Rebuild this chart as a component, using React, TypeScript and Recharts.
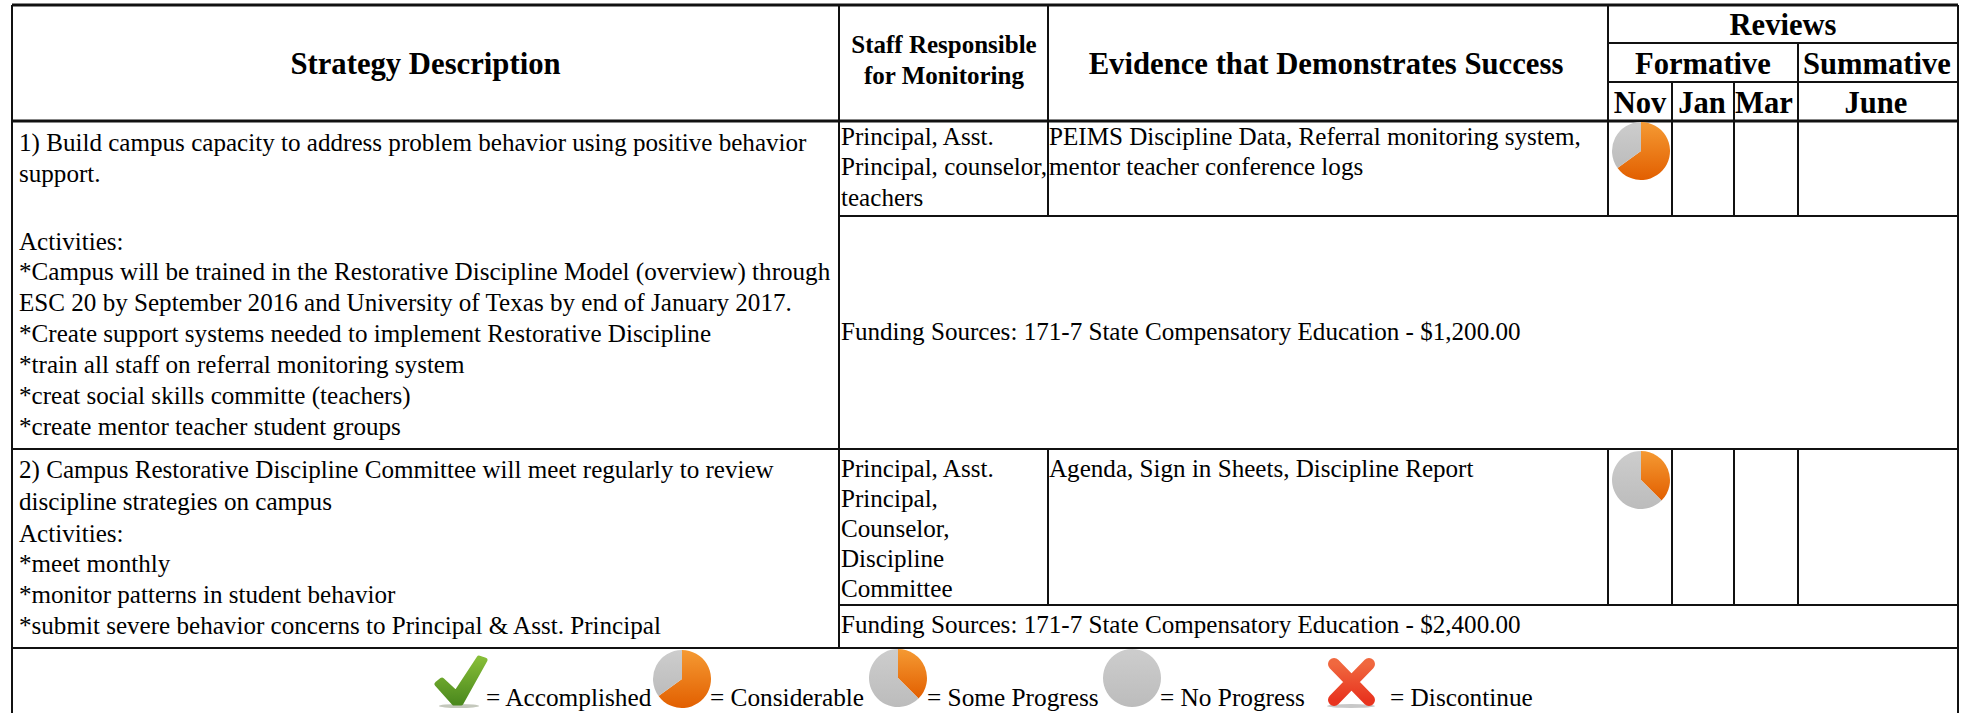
import { PieChart, Pie, Cell } from "recharts";

const considerable = [
  { name: "Done", value: 65 },
  { name: "Left", value: 35 },
];
const someProgress = [
  { name: "Done", value: 37.5 },
  { name: "Left", value: 62.5 },
];
const noProgress = [
  { name: "Done", value: 0 },
  { name: "Left", value: 100 },
];

const headCells = [
  { text: "Strategy Description", x: 425.5, y: 74, size: 30.7 },
  { text: "Staff Responsible", x: 944, y: 53, size: 25 },
  { text: "for Monitoring", x: 944, y: 84, size: 25 },
  { text: "Evidence that Demonstrates Success", x: 1326, y: 74, size: 30.7 },
  { text: "Reviews", x: 1783, y: 35, size: 30.6 },
  { text: "Formative", x: 1703, y: 74, size: 30.6 },
  { text: "Summative", x: 1877, y: 74, size: 30.6 },
  { text: "Nov", x: 1640, y: 113, size: 30.6 },
  { text: "Jan", x: 1702, y: 113, size: 30.6 },
  { text: "Mar", x: 1764, y: 113, size: 30.6 },
  { text: "June", x: 1876, y: 113, size: 30.6 },
];

const strategyOne = [
  ["1) Build campus capacity to address problem behavior using positive behavior", 151],
  ["support.", 182],
  ["Activities:", 250],
  ["*Campus will be trained in the Restorative Discipline Model (overview) through", 280],
  ["ESC 20 by September 2016 and University of Texas by end of January 2017.", 311],
  ["*Create support systems needed to implement Restorative Discipline", 342],
  ["*train all staff on referral monitoring system", 373],
  ["*creat social skills committe (teachers)", 404],
  ["*create mentor teacher student groups", 435],
];
const strategyTwo = [
  ["2) Campus Restorative Discipline Committee will meet regularly to review", 478],
  ["discipline strategies on campus", 510],
  ["Activities:", 542],
  ["*meet monthly", 572],
  ["*monitor patterns in student behavior", 603],
  ["*submit severe behavior concerns to Principal & Asst. Principal", 634],
];
const staffText = [
  ["Principal, Asst.", 145],
  ["Principal, counselor,", 175],
  ["teachers", 206],
  ["Principal, Asst.", 477],
  ["Principal,", 507],
  ["Counselor,", 537],
  ["Discipline", 567],
  ["Committee", 597],
];
const evidenceText = [
  ["PEIMS Discipline Data, Referral monitoring system,", 145],
  ["mentor teacher conference logs", 175],
  ["Agenda, Sign in Sheets, Discipline Report", 477],
];
const fundingText = [
  ["Funding Sources: 171-7 State Compensatory Education - $1,200.00", 340],
  ["Funding Sources: 171-7 State Compensatory Education - $2,400.00", 633],
];
const legendText = [
  ["= Accomplished", 486],
  ["= Considerable", 710],
  ["= Some Progress", 927],
  ["= No Progress", 1160],
  ["= Discontinue", 1390],
];

// x1, y1, x2, y2, weight
const rules = [
  [12, 5, 1958, 5, 3],
  [1608, 43, 1958, 43, 2],
  [1608, 82, 1958, 82, 2],
  [1672, 82, 1672, 121, 2],
  [1734, 82, 1734, 121, 2],
  [12, 121, 1958, 121, 3],
  [839, 216, 1958, 216, 2],
  [12, 449, 1958, 449, 2],
  [839, 605, 1958, 605, 2],
  [12, 648, 1958, 648, 2],
  [12, 5, 12, 713, 2],
  [1958, 5, 1958, 713, 2],
  [839, 5, 839, 648, 2],
  [1048, 5, 1048, 216, 2],
  [1048, 449, 1048, 605, 2],
  [1608, 5, 1608, 216, 2],
  [1608, 449, 1608, 605, 2],
  [1672, 121, 1672, 216, 2],
  [1672, 449, 1672, 605, 2],
  [1734, 121, 1734, 216, 2],
  [1734, 449, 1734, 605, 2],
  [1798, 43, 1798, 216, 2],
  [1798, 449, 1798, 605, 2],
];

function ProgressPie({ x, y, slices, id }: { x: number; y: number; slices: { name: string; value: number }[]; id: string }) {
  const size = 60;
  return (
    <div style={{ position: "absolute", left: x - size / 2, top: y - size / 2, filter: "blur(0.5px)" }}>
      <PieChart width={size} height={size} margin={{ top: 0, right: 0, bottom: 0, left: 0 }}>
        <defs>
          <linearGradient id={id + "o"} x1="0" y1="0" x2="0" y2="1">
            <stop offset="0%" stopColor="#f59a33" />
            <stop offset="100%" stopColor="#e25f00" />
          </linearGradient>
          <linearGradient id={id + "g"} x1="0" y1="0" x2="0" y2="1">
            <stop offset="0%" stopColor="#cdcdcd" />
            <stop offset="100%" stopColor="#bcbcbc" />
          </linearGradient>
        </defs>
        <Pie
          data={slices}
          dataKey="value"
          cx="50%"
          cy="50%"
          outerRadius={29}
          startAngle={90}
          endAngle={-270}
          stroke="none"
          isAnimationActive={false}
        >
          <Cell fill={`url(#${id}o)`} />
          <Cell fill={`url(#${id}g)`} />
        </Pie>
      </PieChart>
    </div>
  );
}

function Icons() {
  return (
    <g style={{ filter: "blur(0.6px)" }}>
      <defs>
        <linearGradient id="checkFill" x1="0" y1="0" x2="0" y2="1">
          <stop offset="0%" stopColor="#86bd37" />
          <stop offset="100%" stopColor="#4c8a1e" />
        </linearGradient>
        <linearGradient id="crossFill" x1="0" y1="0" x2="0" y2="1">
          <stop offset="0%" stopColor="#f0683f" />
          <stop offset="100%" stopColor="#e8341f" />
        </linearGradient>
      </defs>
      <ellipse cx={459} cy={706} rx={20} ry={2} fill="#c4c8bc" />
      <polygon points="437,684 442,680 456,693 479,658 485,660 461,703 454,703" fill="url(#checkFill)" stroke="url(#checkFill)" strokeWidth={5} strokeLinejoin="round" />
      <ellipse cx={1351} cy={706} rx={24} ry={2} fill="#c8c8c8" />
      <path d="M1334 664 L1369 700 M1369 664 L1334 700" stroke="url(#crossFill)" strokeWidth={12} strokeLinecap="round" fill="none" />
    </g>
  );
}

export default function App() {
  const serif = "'Liberation Serif', serif";
  return (
    <div style={{ position: "absolute", left: 0, top: 0, width: 1971, height: 713, background: "#fff", overflow: "hidden" }}>
      <svg width={1971} height={713} style={{ position: "absolute", left: 0, top: 0 }} fontFamily={serif} fill="#000">
        {rules.map((r, i) => (
          <line key={i} x1={r[0]} y1={r[1]} x2={r[2]} y2={r[3]} stroke="#111" strokeWidth={r[4]} />
        ))}
        {headCells.map((c) => (
          <text key={c.text} x={c.x} y={c.y} fontSize={c.size} fontWeight={700} textAnchor="middle">
            {c.text}
          </text>
        ))}
        {[...strategyOne, ...strategyTwo].map(([t, y]) => (
          <text key={t + y} x={19} y={y as number} fontSize={25.1}>
            {t}
          </text>
        ))}
        {staffText.map(([t, y]) => (
          <text key={t + y} x={841} y={y as number} fontSize={25.1}>
            {t}
          </text>
        ))}
        {evidenceText.map(([t, y]) => (
          <text key={t + y} x={1049} y={y as number} fontSize={25.1}>
            {t}
          </text>
        ))}
        {fundingText.map(([t, y]) => (
          <text key={t + y} x={841} y={y as number} fontSize={25.1}>
            {t}
          </text>
        ))}
        {legendText.map(([t, x]) => (
          <text key={t} x={x as number} y={706} fontSize={25.3}>
            {t}
          </text>
        ))}
        <Icons />
      </svg>
      <ProgressPie x={1641} y={150.5} slices={considerable} id="nov1" />
      <ProgressPie x={1641} y={479.5} slices={someProgress} id="nov2" />
      <ProgressPie x={681.5} y={678.5} slices={considerable} id="lg1" />
      <ProgressPie x={898} y={678} slices={someProgress} id="lg2" />
      <ProgressPie x={1131.5} y={678} slices={noProgress} id="lg3" />
    </div>
  );
}
